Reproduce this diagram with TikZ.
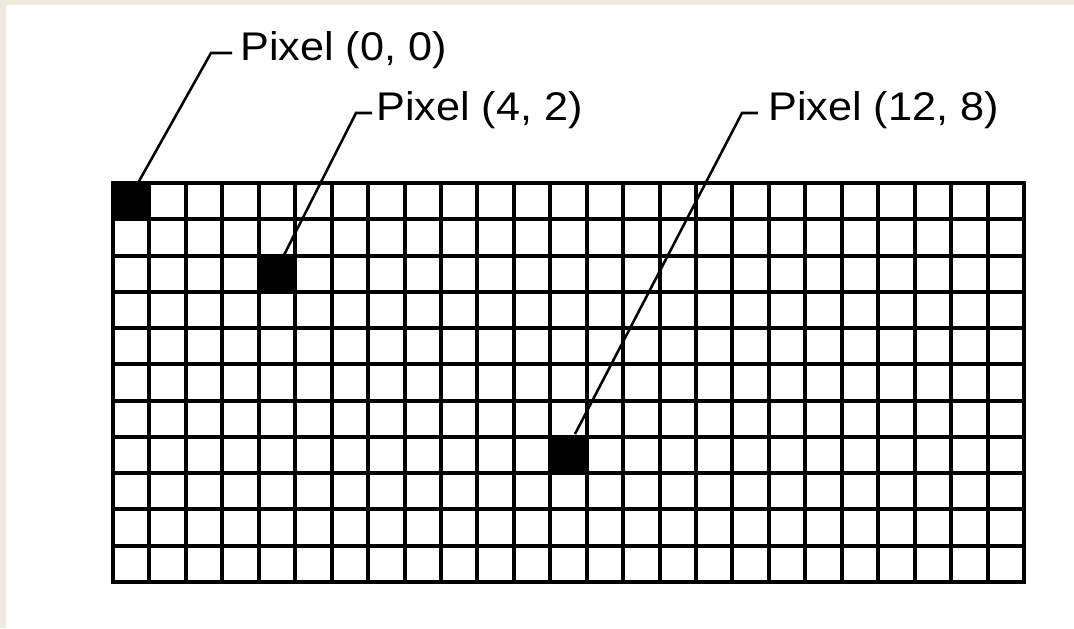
\documentclass[tikz,border=0pt]{standalone}
\usepackage{fontspec}
\setmainfont{Liberation Sans}
\begin{document}
\begin{tikzpicture}[x=0.75pt,y=-0.75pt,
  gridline/.style={line width=3pt,line cap=rect},
  blackcell/.style={fill=black,draw=none,minimum width=36.44*0.75pt,minimum height=36.27*0.75pt,inner sep=0pt,outer sep=0pt},
  leader/.style={line width=1.9pt},
  lbl/.style={anchor=base west,inner sep=0pt,font=\fontsize{30}{36}\selectfont}]
\useasboundingbox (0,0) rectangle (1074,628);
\fill[fill={rgb,255:red,238;green,234;blue,224}] (0,0) rectangle (1074,628);
\fill[white] (6,5) rectangle (1074,628);
% black cells
\node[blackcell] (p00) at (113+0.5*36.44,183+0.5*36.27) {};
\node[blackcell] (p42) at (113+4.5*36.44,183+2.5*36.27) {};
\node[blackcell] (p128) at (113+12.5*36.44,183+7.5*36.27) {};
% grid
\foreach \i in {0,...,25} \draw[gridline] (113+\i*36.44,183) -- (113+\i*36.44,582);
\foreach \j in {0,...,11} \draw[gridline] (113,183+\j*36.27) -- (1024,183+\j*36.27);
% labels
\node[lbl] (l00) at (240,60) {\scalebox{1.08}[1]{Pixel (0, 0)}};
\node[lbl] (l42) at (376,120) {\scalebox{1.08}[1]{Pixel (4, 2)}};
\node[lbl] (l128) at (768,120) {\scalebox{1.08}[1]{Pixel (12, 8)}};
% leaders
\coordinate (a00) at (138,183);
\coordinate (b00) at (211,53);
\coordinate (c00) at (232,53);
\coordinate (a42) at (283,257);
\coordinate (b42) at (356,113);
\coordinate (c42) at (372,113);
\coordinate (a128) at (575,434);
\coordinate (b128) at (742,113);
\coordinate (c128) at (758,113);
\draw[leader] (a00) -- (b00) -- (c00);
\draw[leader] (a42) -- (b42) -- (c42);
\draw[leader] (a128) -- (b128) -- (c128);
\end{tikzpicture}
\end{document}
